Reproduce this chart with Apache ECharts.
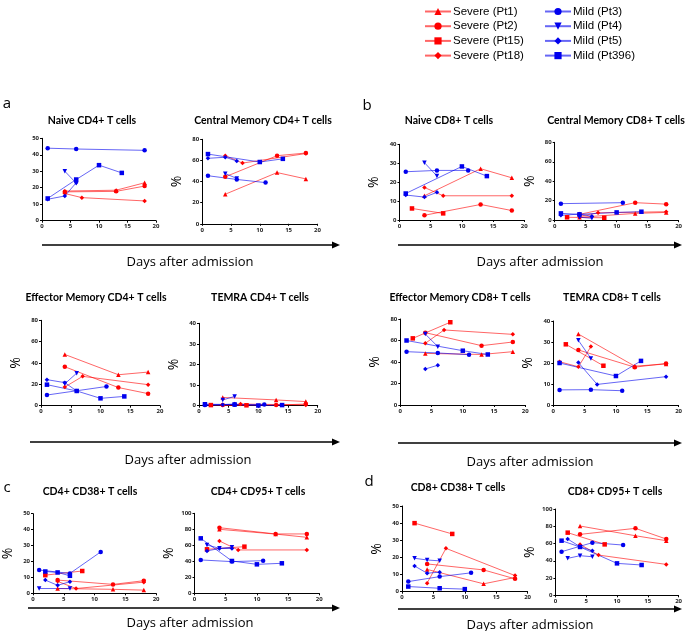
<!DOCTYPE html>
<html><head><meta charset="utf-8">
<script src="https://cdn.jsdelivr.net/npm/echarts@6/dist/echarts.min.js"></script>
<style>html,body{margin:0;padding:0;background:#fff}#c{width:685px;height:631px}</style>
</head><body><div id="c"></div>
<script>
// ---------- DATA ----------
const panelTitles = ['Naive CD4+ T cells','Central Memory CD4+ T cells','Naive CD8+ T cells','Central Memory CD8+ T cells',
  'Effector Memory CD4+ T cells','TEMRA CD4+ T cells','Effector Memory CD8+ T cells','TEMRA CD8+ T cells',
  'CD4+ CD38+ T cells','CD4+ CD95+ T cells','CD8+ CD38+ T cells','CD8+ CD95+ T cells'];
const yMax  = [50,80,40,80,80,40,80,40,50,100,50,100];
const yStep = [10,20,10,20,20,10,20,10,10,20,10,20];
const xTickLabels = ['0','5','10','15','20'];
const legendNames = ['Severe (Pt1)','Severe (Pt2)','Severe (Pt15)','Severe (Pt18)','Mild (Pt3)','Mild (Pt4)','Mild (Pt5)','Mild (Pt396)'];

// [day, %] per panel (12 panels in reading order)
const pt1 = [
  [[4,18],[13,18.5],[18,23]], [[4,28],[13,48.5],[18,42.5]], [[4,12.8],[13,27.1],[18,22.3]], [[4,3],[13,7],[18,8]],
  [[4,48],[13,29],[18,31.5]], [[4,4],[13,2.8],[18,2]], [[4,48],[13,47],[18,49.6]], [[4,33.8],[13,18.5],[18,19.5]],
  [[4,3],[13,2.5],[18,2]], [[4,80],[13,74],[18,70]], [[4,13],[13,4.6],[18,8.3]], [[4,80.3],[13,69],[18,63.3]]];
const pt2 = [
  [[4,17.5],[13,17.8],[18,21]], [[4,44.5],[13,64.5],[18,67]], [[4,2.5],[13,8.2],[18,5]], [[4,6],[13,18],[18,16.5]],
  [[4,36.5],[13,17],[18,11.3]], [[4,0.4],[13,0.3],[18,0.8]], [[4,67.3],[13,55.2],[18,58.6]], [[4,26.2],[13,18],[18,19.8]],
  [[4,8.3],[13,5.6],[18,7.9]], [[4,82],[13,74.2],[18,74.2]], [[4,16.2],[13,12.7],[18,7.5]], [[4,70.6],[13,77.6],[18,65.2]]];
const pt15 = [
  [], [], [[2,6.1],[7,3.5]], [[2,3],[8,2.5]],
  [], [[2,0.3],[8,0.2]], [[2,62],[8,77]], [[2,28.9],[8,18.7]],
  [[2,11.4],[8,14]], [[2,55],[8,58.3]], [[2,40],[8,33.7]], [[2,72.6],[8,59]]];
const pt18 = [
  [[4,16.5],[7,14],[18,12]], [[4,64.5],[7,57.5],[18,66.5]], [[4,17.2],[7,12.8],[18,12.8]], [[4,4],[7,7.6],[18,8.7]],
  [[4,17.5],[7,27.5],[18,19.7]], [[4,0.3],[7,0.8],[18,0.4]], [[4,57.4],[7,69.8],[18,65.7]], [[1,20.6],[4,18.2],[6,27.8]],
  [[4,7.5],[7,3],[18,7]], [[4,65.4],[7,54.2],[18,54.2]], [[4,5],[7,25.3],[18,9.4]], [[4,59],[7,46.6],[18,35.8]]];
const pt3 = [
  [[1,44],[6,43.5],[18,42.7]], [[1,45.5],[6,42],[11,39]], [[1,25.5],[6,26.2],[11,26.2]], [[1,17],[11,18]],
  [[1,10],[11,18]], [[1,0.3],[6,0.5],[11,0.6]], [[1,49.6],[6,48.4],[11,46.8]], [[1,7.2],[6,7.3],[11,6.8]],
  [[1,14.6],[6,12.5],[11,26]], [[1,41.7],[6,39.6],[11,40.8]], [[1,5.9],[6,8.8],[11,11]], [[1,50.5],[6,61],[11,58.2]]];
const pt4 = [
  [[4,30],[6,22.8]], [[4,47.5],[6,43]], [[4,30.3],[6,23.2]], [[4,3],[6,2]],
  [[4,20.5],[6,30.5]], [[4,2.8],[6,4.5]], [[4,66],[6,54.3]], [[4,30.8],[6,22.2]],
  [[1,3],[6,3]], [[2,60.4],[4,56.2],[6,57.5]], [[2,19.5],[4,18.5],[6,18]], [[2,42.8],[4,45.9],[6,44.7]]];
const pt5 = [
  [[1,13],[4,15],[6,23]], [[1,62],[4,63],[6,59.5]], [[1,13.2],[4,12.1],[6,14.6]], [[1,5],[4,6.3],[6,4]],
  [[1,24.4],[4,21.6],[6,13.8]], [[1,0.4],[4,0.5],[6,0.8]], [[4,33.5],[6,37]], [[4,20.2],[7,9.8],[18,13.5]],
  [[2,8.3],[4,5],[6,7.3]], [[2,53],[4,56],[6,56]], [[2,15],[4,10.8],[6,11.4]], [[2,65.2],[4,56.3],[6,51.7]]];
const pt396 = [
  [[1,13.5],[6,25],[10,33.7],[14,29]], [[1,66],[10,58.5],[14,61.5]], [[1,14],[10,28.3],[14,23.2]], [[1,7],[4,6],[10,8],[14,8.7]],
  [[1,19.7],[6,13.8],[10,6.9],[14,8.7]], [[1,0.7],[6,0.6],[10,0.1],[14,0.3]], [[1,60],[10,50.5],[14,47]], [[1,20],[10,13.8],[14,21]],
  [[2,13.7],[4,13.1],[6,11]], [[1,68.7],[6,40.4],[10,36.2],[14,37.5]], [[1,3],[6,2],[10,1.5]], [[1,63.3],[4,56],[10,37],[14,35.1]]];

// ---------- LAYOUT / STYLE ----------
const RED = '#ff0000', BLUE = '#0000ee';
const patientStyle = [
  {data: pt1, symbol: 'triangle', rot: 0, color: RED},
  {data: pt2, symbol: 'circle', rot: 0, color: RED},
  {data: pt15, symbol: 'rect', rot: 0, color: RED},
  {data: pt18, symbol: 'diamond', rot: 0, color: RED},
  {data: pt3, symbol: 'circle', rot: 0, color: BLUE},
  {data: pt4, symbol: 'triangle', rot: 180, color: BLUE},
  {data: pt5, symbol: 'diamond', rot: 0, color: BLUE},
  {data: pt396, symbol: 'rect', rot: 0, color: BLUE}
];
// [left, top, width, height] of each plot area
const boxes = [
  [42,138.3,114,82.4],[202.2,139.3,115.2,84.5],[399.5,144.3,124.8,75.7],[554.7,142.3,125.6,77.9],
  [41,320.3,119,85.4],[199,323.3,118.7,82.4],[400.3,319,125,86],[553.3,321,127,84],
  [28.3,513.7,127.8,79.6],[194.5,513.3,124.8,80],[402,506,125.6,85.7],[555.4,509,125.4,86.3]];
const titlePos = [[92,115],[263,115],[449,115],[616,115],[96,292],[260,292],[460,292],[612,292],[90,486],[258,486],[458,482],[615,486]];
const showPct = [false,true,true,true,true,true,true,true,true,true,true,true];

const FONT = '"Open Sans", "Noto Sans", sans-serif';
const TFONT = 'Lato, "Open Sans", sans-serif';
const grids = [], xAxes = [], yAxes = [], titles = [], series = [];
boxes.forEach((b, i) => {
  grids.push({left: b[0], top: b[1], width: b[2], height: b[3], containLabel: false});
  xAxes.push({type: 'value', gridIndex: i, min: 0, max: 20, interval: 5,
    axisLine: {show: true, lineStyle: {color: '#000', width: 1}},
    axisTick: {show: true, length: 2, lineStyle: {color: '#000'}},
    splitLine: {show: false},
    axisLabel: {fontSize: 6, fontWeight: 'bold', color: '#222', margin: 3, fontFamily: FONT,
      formatter: v => xTickLabels[Math.round(v / 5)]}});
  yAxes.push({type: 'value', gridIndex: i, min: 0, max: yMax[i], interval: yStep[i],
    axisLine: {show: true, lineStyle: {color: '#000', width: 1}},
    axisTick: {show: true, length: 2, lineStyle: {color: '#000'}},
    splitLine: {show: false},
    axisLabel: {fontSize: 6, fontWeight: 'bold', color: '#222', margin: 3, fontFamily: FONT},
    name: showPct[i] ? '%' : '', nameLocation: 'middle', nameRotate: 90, nameGap: 18,
    nameTextStyle: {fontSize: 14, color: '#000', fontFamily: FONT}});
  titles.push({text: panelTitles[i], left: titlePos[i][0], top: titlePos[i][1], textAlign: 'center', padding: 0,
    textStyle: {fontSize: 10.5, fontWeight: 'bold', color: '#000', fontFamily: TFONT}});
  patientStyle.forEach((p, k) => {
    series.push({type: 'line', name: legendNames[k], xAxisIndex: i, yAxisIndex: i,
      data: p.data[i], symbol: p.symbol, symbolRotate: p.rot, symbolSize: 4.5,
      showSymbol: true, silent: true, animation: false,
      lineStyle: {color: p.color, width: 1, opacity: 0.6},
      itemStyle: {color: p.color}});
  });
});

function arrow(x1, x2, y) {
  return [
    {type: 'line', shape: {x1: x1, y1: y, x2: x2 - 6, y2: y}, style: {stroke: '#000', lineWidth: 1.5}},
    {type: 'polygon', shape: {points: [[x2, y], [x2 - 8, y - 3.5], [x2 - 8, y + 3.5]]}, style: {fill: '#000'}}
  ];
}
function label(t, x, y, size, weight) {
  return {type: 'text', x: x, y: y, style: {text: t, fontSize: size, fontWeight: weight || 'normal',
    fill: '#000', fontFamily: FONT, align: 'center', verticalAlign: 'middle'}};
}
const graphics = [].concat(
  arrow(42, 340, 245), arrow(398, 682, 245),
  arrow(30, 340, 442), arrow(398, 682, 443),
  arrow(28, 340, 608), arrow(398, 682, 609),
  [label('Days after admission', 190, 262, 13), label('Days after admission', 540, 262, 13),
   label('Days after admission', 188, 460, 13), label('Days after admission', 530, 462, 13),
   label('Days after admission', 190, 623, 13), label('Days after admission', 530, 625, 13),
   label('a', 7, 104, 15), label('b', 367, 106, 15), label('c', 7, 488, 15), label('d', 369, 482, 15)]
);

const legendCommon = {orient: 'vertical', itemWidth: 26, itemHeight: 9, itemGap: 2.7, padding: 0,
  textStyle: {fontSize: 11.5, color: '#000', fontFamily: '"Liberation Sans", Arial, sans-serif', padding: [0, 0, 0, -3]},
  selectedMode: false};

const chart = echarts.init(document.getElementById('c'), null, {renderer: 'canvas'});
chart.setOption({
  animation: false,
  backgroundColor: '#fff',
  title: titles,
  grid: grids, xAxis: xAxes, yAxis: yAxes, series: series,
  legend: [
    Object.assign({left: 424, top: 5.5, data: legendNames.slice(0, 4)}, legendCommon),
    Object.assign({left: 544, top: 5.5, data: legendNames.slice(4)}, legendCommon)
  ],
  graphic: graphics
});
</script></body></html>
